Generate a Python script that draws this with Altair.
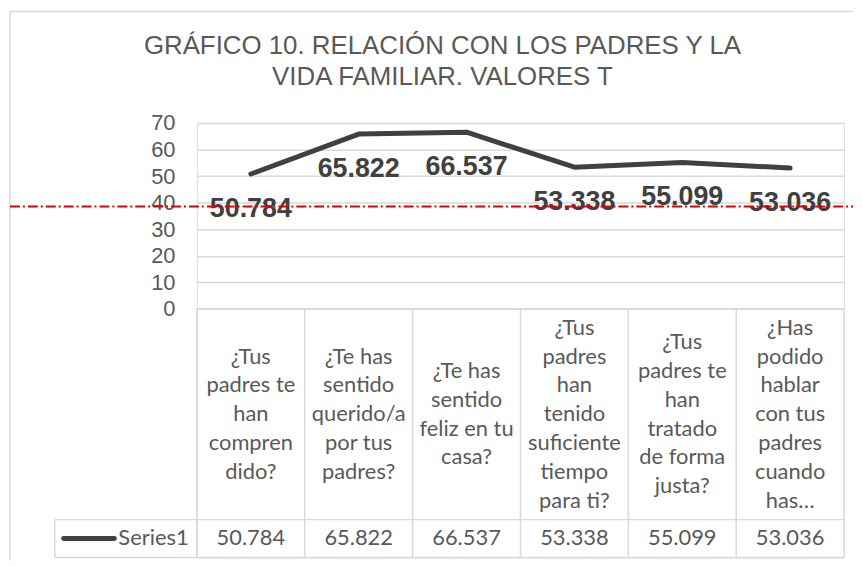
import altair as alt
import pandas as pd

# ---------------- data ----------------
categories = [
    "¿Tus padres te han comprendido?",
    "¿Te has sentido querido/a por tus padres?",
    "¿Te has sentido feliz en tu casa?",
    "¿Tus padres han tenido suficiente tiempo para ti?",
    "¿Tus padres te han tratado de forma justa?",
    "¿Has podido hablar con tus padres cuando has…",
]
header_lines = [
    ["¿Tus", "padres te", "han", "compren", "dido?"],
    ["¿Te has", "sentido", "querido/a", "por tus", "padres?"],
    ["¿Te has", "sentido", "feliz en tu", "casa?"],
    ["¿Tus", "padres", "han", "tenido", "suficiente", "tiempo", "para ti?"],
    ["¿Tus", "padres te", "han", "tratado", "de forma", "justa?"],
    ["¿Has", "podido", "hablar", "con tus", "padres", "cuando", "has…"],
]
values = [50.784, 65.822, 66.537, 53.338, 55.099, 53.036]
series_name = "Series1"
y_ticks = [0, 10, 20, 30, 40, 50, 60, 70]
reference_value = 38.5
title_lines = ["GRÁFICO 10. RELACIÓN CON LOS PADRES Y LA", "VIDA FAMILIAR. VALORES T"]

# ---------------- tables ----------------
n = len(categories)
df = pd.DataFrame({
    "cat": categories,
    "pos": [i + 0.5 for i in range(n)],
    "value": values,
    "header": ["\n".join(h) for h in header_lines],
})
df_bounds = pd.DataFrame({"b": list(range(n + 1))})
df_ref = pd.DataFrame({"v": [reference_value]})
df_title = pd.DataFrame({"t": ["\n".join(title_lines)]})
df_series = pd.DataFrame({"s": [series_name]})

W = 651
H_TOP = 187
H_TAB = 250
HEAD_H = 212
LINE_H = 29
GRID = "#d9d9d9"
DARK = "#404040"
TXT = "#595959"
TABLE_FONT = "Lato"
MAIN_FONT = "Liberation Sans"

xs = alt.Scale(domain=[0, n])
X = alt.X("pos:Q", scale=xs, axis=None)

y_axis = alt.Axis(
    values=y_ticks, grid=True, gridColor=GRID, gridWidth=1.5,
    domain=False, ticks=False, labelFontSize=22, labelColor=TXT,
    labelFont=MAIN_FONT, labelPadding=22, labelOverlap=False, title=None,
)
ys = alt.Scale(domain=[0, 70])

# ---------------- top panel ----------------
base = alt.Chart(df)

line = base.mark_line(color=DARK, strokeWidth=5, strokeCap="round", strokeJoin="round").encode(
    x=X, y=alt.Y("value:Q", scale=ys, axis=y_axis),
)

labels = base.mark_text(
    font=MAIN_FONT, fontSize=27, fontWeight="bold", color=DARK,
    dy=35, baseline="middle", align="center",
).encode(x=X, y=alt.Y("value:Q", scale=ys, axis=y_axis),
         text=alt.Text("value:Q", format=".3f"))

ref_line = alt.Chart(df_ref).mark_rule(
    color="#e00000", strokeWidth=2, strokeDash=[10, 3, 2, 3]
).encode(y=alt.Y("v:Q", scale=ys, axis=y_axis), x=alt.value(-188), x2=alt.value(660))

title = alt.Chart(df_title).mark_text(
    font=MAIN_FONT, fontSize=26, color=TXT, align="center", baseline="alphabetic",
    lineBreak="\n", lineHeight=31,
).encode(text="t:N", x=alt.value(247), y=alt.value(-69))

border_top = alt.Chart(df_ref).mark_rule(color=GRID, strokeWidth=1.5).encode(
    x=alt.value(-188), x2=alt.value(660), y=alt.value(-112)
)
border_left = alt.Chart(df_ref).mark_rule(color=GRID, strokeWidth=1.5).encode(
    x=alt.value(-188), y=alt.value(-112), y2=alt.value(440)
)

top = alt.layer(border_top, border_left, title, line, labels, ref_line).properties(
    width=W, height=H_TOP
)

# ---------------- data table panel ----------------
vrules = alt.Chart(df_bounds).mark_rule(color=GRID, strokeWidth=1.5).encode(
    x=alt.X("b:Q", scale=xs, axis=None), y=alt.value(0), y2=alt.value(H_TAB)
)
left_edge = alt.Chart(df_ref).mark_rule(color=GRID, strokeWidth=1.5).encode(
    x=alt.value(-143), y=alt.value(HEAD_H), y2=alt.value(H_TAB)
)
h_top = alt.Chart(df_ref).mark_rule(color=GRID, strokeWidth=1.5).encode(
    x=alt.value(0), x2=alt.value(W), y=alt.value(0)
)
h_mid = alt.Chart(df_ref).mark_rule(color=GRID, strokeWidth=1.5).encode(
    x=alt.value(-143), x2=alt.value(W), y=alt.value(HEAD_H)
)
h_bot = alt.Chart(df_ref).mark_rule(color=GRID, strokeWidth=1.5).encode(
    x=alt.value(-143), x2=alt.value(W), y=alt.value(H_TAB)
)

# header text: vertically centre each multi-line block in the header cell
head_text = alt.Chart(df).transform_calculate(
    ty=f"{HEAD_H / 2} - (length(split(datum.header, '\\n')) - 1) * {LINE_H / 2}"
).mark_text(
    font=TABLE_FONT, fontSize=22, color=TXT, align="center", baseline="middle",
    lineBreak="\n", lineHeight=LINE_H,
).encode(
    x=X,
    y=alt.Y("ty:Q", scale=alt.Scale(domain=[0, H_TAB], reverse=True), axis=None),
    text="header:N",
)

val_text = alt.Chart(df).mark_text(
    font=TABLE_FONT, fontSize=22, color=TXT, align="center", baseline="middle",
).encode(x=X, y=alt.value(231), text=alt.Text("value:Q", format=".3f"))

legend_line = alt.Chart(df_series).mark_rule(color=DARK, strokeWidth=5, strokeCap="round").encode(
    x=alt.value(-134), x2=alt.value(-83), y=alt.value(231)
)
legend_text = alt.Chart(df_series).mark_text(
    font=TABLE_FONT, fontSize=22, color=TXT, align="left", baseline="middle",
).encode(x=alt.value(-79), y=alt.value(231), text="s:N")

table = alt.layer(vrules, left_edge, h_top, h_mid, h_bot, head_text, val_text,
                  legend_line, legend_text).properties(width=W, height=H_TAB)

chart = alt.vconcat(top, table, spacing=0, bounds="flush").properties(
    padding={"left": 0, "top": 0, "right": 0, "bottom": 0}
).configure_view(strokeWidth=0).configure(background="white")

chart.save("out.html", embed_options={"renderer": "svg", "actions": False})
